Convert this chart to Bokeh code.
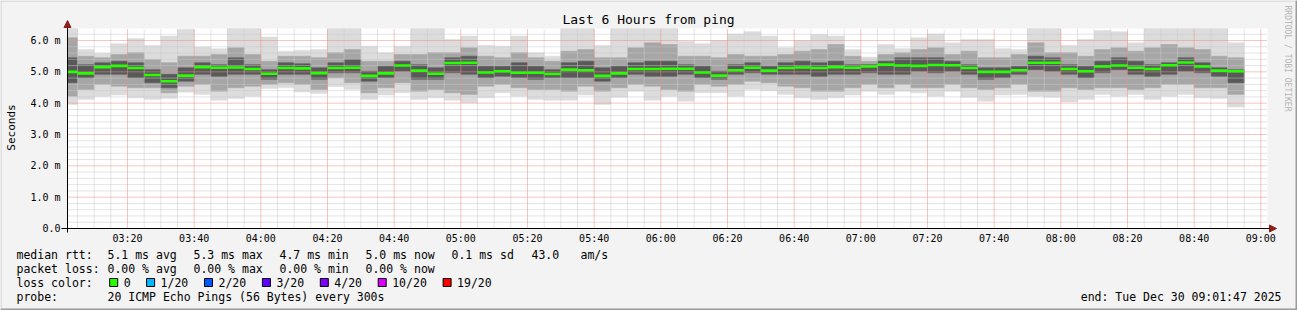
import numpy as np
import pandas as pd
from math import pi
from bokeh.plotting import figure
from bokeh.models import ColumnDataSource, FixedTicker, Range1d, Arrow, NormalHead
from bokeh.embed import file_html
from bokeh.resources import INLINE
from bokeh.core.properties import value

MONO = "DejaVu Sans Mono"

# ---------------- data ----------------
# one bar per 5-minute RRD step, timestamp = end of the step
bar_end = pd.date_range("2025-12-30 03:05", "2025-12-30 08:55", freq="5min")

median_ms = [5.00, 4.95, 5.15, 5.19, 5.12, 4.90, 4.70, 4.88, 5.15, 5.13,
             5.14, 5.09, 4.94, 5.12, 5.11, 4.96, 5.12, 5.13, 4.87, 4.95,
             5.20, 5.04, 4.94, 5.28, 5.29, 4.98, 5.02, 4.97, 4.97, 4.93,
             5.07, 5.05, 4.87, 4.95, 5.09, 5.09, 5.10, 5.10, 4.98, 4.88,
             5.05, 5.13, 5.04, 5.12, 5.14, 5.12, 5.15, 5.13, 5.17, 5.23,
             5.20, 5.19, 5.22, 5.21, 5.12, 5.00, 5.00, 5.05, 5.29, 5.29,
             5.09, 5.02, 5.17, 5.20, 5.13, 5.09, 5.21, 5.30, 5.17, 5.04,
             5.02]

smoke_max_ms = [6.38, 5.71, 5.59, 5.90, 6.06, 5.84, 6.14, 6.36, 5.79, 5.74,
                6.38, 6.38, 6.11, 5.66, 5.69, 5.71, 6.38, 6.38, 5.82, 5.61,
                5.82, 6.38, 6.38, 6.03, 6.14, 5.85, 5.82, 6.14, 5.61, 5.50,
                6.38, 6.38, 5.84, 6.38, 6.38, 6.38, 6.38, 5.98, 5.90, 6.00,
                6.21, 6.28, 6.14, 5.77, 6.00, 6.19, 6.14, 5.71, 5.47, 5.87,
                5.74, 6.09, 6.21, 5.93, 6.03, 6.03, 5.74, 5.71, 6.38, 6.38,
                5.85, 6.03, 6.32, 6.28, 5.93, 6.38, 6.38, 6.38, 6.38, 6.38,
                5.93]

smoke_min_ms = [3.96, 4.12, 4.22, 4.26, 4.17, 4.12, 4.15, 4.35, 4.28, 4.09,
                4.15, 4.22, 4.47, 4.49, 4.36, 4.31, 4.53, 4.44, 4.12, 4.26,
                4.33, 4.12, 4.17, 4.09, 4.01, 4.17, 4.33, 4.22, 4.12, 4.09,
                4.09, 4.26, 3.96, 4.19, 4.38, 4.09, 4.22, 4.06, 4.33, 4.33,
                4.22, 4.44, 4.40, 4.28, 4.17, 4.12, 4.17, 4.26, 4.38, 4.28,
                4.38, 4.33, 4.22, 4.38, 4.19, 4.06, 4.26, 4.28, 4.22, 4.19,
                4.04, 4.12, 4.28, 4.22, 4.28, 4.12, 4.22, 4.28, 4.17, 4.15,
                3.88]

mid_hi_ms = [6.09, 5.50, 5.45, 5.55, 5.61, 5.39, 5.29, 5.50, 5.50, 5.55,
             5.77, 5.55, 5.34, 5.50, 5.50, 5.45, 5.61, 5.71, 5.34, 5.34,
             5.55, 5.55, 5.61, 5.61, 5.77, 5.50, 5.45, 5.61, 5.45, 5.34,
             5.66, 5.71, 5.45, 5.45, 5.77, 5.93, 5.87, 5.50, 5.50, 5.45,
             5.55, 5.50, 5.50, 5.55, 5.66, 5.71, 5.87, 5.50, 5.34, 5.55,
             5.61, 5.71, 5.77, 5.55, 5.66, 5.45, 5.45, 5.55, 5.93, 5.61,
             5.61, 5.50, 5.71, 5.77, 5.66, 5.77, 5.87, 5.77, 5.71, 5.50,
             5.45]

mid_lo_ms = [4.22, 4.44, 4.60, 4.54, 4.49, 4.49, 4.33, 4.54, 4.60, 4.38,
             4.49, 4.54, 4.60, 4.65, 4.60, 4.44, 4.81, 4.65, 4.33, 4.49,
             4.65, 4.38, 4.44, 4.33, 4.28, 4.54, 4.60, 4.49, 4.44, 4.44,
             4.38, 4.54, 4.38, 4.49, 4.60, 4.54, 4.44, 4.38, 4.60, 4.54,
             4.60, 4.70, 4.65, 4.54, 4.49, 4.38, 4.38, 4.49, 4.60, 4.49,
             4.60, 4.49, 4.49, 4.60, 4.49, 4.44, 4.49, 4.60, 4.38, 4.38,
             4.49, 4.44, 4.49, 4.49, 4.44, 4.49, 4.60, 4.60, 4.49, 4.49,
             4.28]

core_hi_ms = [5.45, 5.23, 5.29, 5.34, 5.29, 5.07, 4.92, 5.13, 5.29, 5.23,
              5.45, 5.23, 5.07, 5.29, 5.26, 5.13, 5.29, 5.39, 5.02, 5.18,
              5.34, 5.23, 5.13, 5.45, 5.50, 5.18, 5.18, 5.29, 5.18, 5.07,
              5.29, 5.34, 5.13, 5.18, 5.29, 5.34, 5.34, 5.23, 5.18, 5.02,
              5.23, 5.29, 5.18, 5.29, 5.34, 5.29, 5.34, 5.23, 5.23, 5.34,
              5.45, 5.45, 5.45, 5.34, 5.23, 5.13, 5.13, 5.18, 5.50, 5.45,
              5.23, 5.18, 5.34, 5.45, 5.34, 5.23, 5.29, 5.45, 5.29, 5.13,
              5.07]

core_lo_ms = [4.65, 4.81, 4.92, 4.92, 4.81, 4.65, 4.49, 4.70, 4.92, 4.86,
              4.92, 4.92, 4.76, 4.92, 4.92, 4.76, 4.97, 4.97, 4.70, 4.81,
              5.02, 4.76, 4.76, 4.97, 4.92, 4.81, 4.86, 4.81, 4.76, 4.81,
              4.81, 4.81, 4.70, 4.81, 4.92, 4.86, 4.86, 4.92, 4.81, 4.76,
              4.92, 4.97, 4.92, 4.92, 4.92, 4.86, 4.92, 4.92, 4.97, 4.92,
              4.92, 5.02, 4.97, 5.02, 4.92, 4.76, 4.81, 4.92, 5.07, 5.02,
              4.92, 4.81, 4.97, 5.07, 4.92, 4.86, 4.92, 5.02, 4.97, 4.86,
              4.65]

x_tick_labels = ["03:20", "03:40", "04:00", "04:20", "04:40", "05:00", "05:20", "05:40", "06:00",
                 "06:20", "06:40", "07:00", "07:20", "07:40", "08:00", "08:20", "08:40", "09:00"]
y_tick_values = [0, 1, 2, 3, 4, 5, 6]
y_tick_labels = ["0.0", "1.0 m", "2.0 m", "3.0 m", "4.0 m", "5.0 m", "6.0 m"]

title_text = "Last 6 Hours from ping"
y_label = "Seconds"
watermark = "RRDTOOL / TOBI OETIKER"
rtt_stats = ["5.1 ms avg", "5.3 ms max", "4.7 ms min", "5.0 ms now", "0.1 ms sd", "43.0", "am/s"]
loss_stats = ["0.00 % avg", "0.00 % max", "0.00 % min", "0.00 % now"]
loss_labels = ["0", "1/20", "2/20", "3/20", "4/20", "10/20", "19/20"]
loss_colors = ["#26ff00", "#00b8ff", "#0059ff", "#5e00ff", "#7e00ff", "#dd00ff", "#ff0000"]
probe_text = "20 ICMP Echo Pings (56 Bytes) every 300s"
end_text = "end: Tue Dec 30 09:01:47 2025"

# ---------------- geometry (canvas pixels) ----------------
W, H = 1297, 310
FL, FR, FT, FB = 67, 1267, 28, 228          # graph area inside the canvas
X0, X1 = 182.0, 542.0                       # minutes since midnight (03:02 .. 09:02)
Y0, Y1 = 0.0, 6.0 * (FB - FT) / 188.0       # ms

def px2x(px):
    return X0 + (px - FL) * (X1 - X0) / (FR - FL)

def px2y(py):
    return Y0 + (FB - py) * (Y1 - Y0) / (FB - FT)

BG = "#f3f3f3"

# the frame covers the whole canvas; the graph area is mapped to FL..FR / FT..FB
p = figure(width=W, height=H, x_range=Range1d(px2x(0), px2x(W)), y_range=Range1d(px2y(H), px2y(0)),
           output_backend="svg", toolbar_location=None, min_border=0,
           min_border_left=0, min_border_right=0, min_border_top=0, min_border_bottom=0,
           background_fill_color=BG, border_fill_color=BG, outline_line_color=None)
p.title.text = ""
p.xgrid.visible = False
p.ygrid.visible = False

# graph background
p.quad(left=[X0], right=[X1], bottom=[Y0], top=[Y1], fill_color="white", line_color=None)

t_end = (bar_end.hour * 60 + bar_end.minute).to_numpy().astype(float)
left = np.maximum(t_end - 5.0, X0)      # rrdtool clips the first step at the graph start
med_half = 1.3 * (Y1 - Y0) / (FB - FT)
src = ColumnDataSource(dict(
    left=left, right=t_end,
    smin=smoke_min_ms, smax=smoke_max_ms,
    mlo=mid_lo_ms, mhi=mid_hi_ms,
    clo=core_lo_ms, chi=core_hi_ms,
    med_lo=[m - med_half for m in median_ms],
    med_hi=[m + med_half for m in median_ms],
))

p.quad(left="left", right="right", bottom="smin", top="smax", source=src,
       fill_color="#dcdcdc", line_color="#dcdcdc", line_width=0.5)
p.quad(left="left", right="right", bottom="mlo", top="mhi", source=src,
       fill_color="#a6a6a6", line_color="#a6a6a6", line_width=0.5)
p.quad(left="left", right="right", bottom="clo", top="chi", source=src,
       fill_color="#595959", line_color="#595959", line_width=0.5)

# grid (dotted, drawn over the smoke like rrdtool)
major_x = [200 + 20 * i for i in range(len(x_tick_labels))]
minor_x = [m for m in range(185, 542, 5) if m % 20 != 0]
minor_y = [round(i * 0.2, 1) for i in range(1, 32) if i % 5 != 0]
p.segment(x0=minor_x, y0=Y0, x1=minor_x, y1=Y1, line_color="#c8c8c8", line_dash="1 1", line_width=1)
p.segment(x0=X0, y0=minor_y, x1=X1, y1=minor_y, line_color="#c8c8c8", line_dash="1 1", line_width=1)
p.segment(x0=major_x, y0=Y0, x1=major_x, y1=Y1, line_color="#f08a8a", line_dash="1 1", line_width=1)
p.segment(x0=X0, y0=y_tick_values[1:], x1=X1, y1=y_tick_values[1:], line_color="#f08a8a",
          line_dash="1 1", line_width=1)

# median
p.quad(left="left", right="right", bottom="med_lo", top="med_hi", source=src,
       fill_color=loss_colors[0], line_color=None)

# axes: labels from Bokeh axes, fixed at the graph edges
p.xaxis.fixed_location = Y0
p.yaxis.fixed_location = X0
p.xaxis.ticker = FixedTicker(ticks=major_x, minor_ticks=[])
p.xaxis.major_label_overrides = {m: lab for m, lab in zip(major_x, x_tick_labels)}
p.yaxis.ticker = FixedTicker(ticks=y_tick_values, minor_ticks=[])
p.yaxis.major_label_overrides = {v: lab for v, lab in zip(y_tick_values, y_tick_labels)}
p.xaxis.bounds = (X0, X1)
p.yaxis.bounds = (Y0, Y1)
for ax in (p.xaxis, p.yaxis):
    ax.axis_line_color = None
    ax.major_tick_out = 0
    ax.major_tick_in = 0
    ax.minor_tick_out = 0
    ax.minor_tick_in = 0
    ax.major_label_text_font = MONO
    ax.major_label_text_font_size = "10px"
    ax.major_label_text_color = "black"
p.xaxis.major_label_standoff = 4
p.yaxis.major_label_standoff = 7

# axis lines with arrow heads
ARROW_RED = "#8f1f1f"
p.add_layout(Arrow(x_start=px2x(61), y_start=Y0, x_end=px2x(1276), y_end=Y0,
                   line_color="black", line_width=1,
                   end=NormalHead(size=7, fill_color=ARROW_RED, line_color=ARROW_RED)))
p.add_layout(Arrow(x_start=X0, y_start=px2y(232), x_end=X0, y_end=px2y(20),
                   line_color="black", line_width=1,
                   end=NormalHead(size=7, fill_color=ARROW_RED, line_color=ARROW_RED)))

# title, unit label, watermark
p.text(x=[px2x(648)], y=[px2y(19)], text=[title_text], text_align="center", text_baseline="middle",
       text_font=value(MONO), text_font_size="13px", text_color="black")
p.text(x=[px2x(11)], y=[px2y(127)], text=[y_label], angle=pi / 2, text_align="center",
       text_baseline="middle", text_font=value(MONO), text_font_size="11px", text_color="black")
p.text(x=[px2x(1287)], y=[px2y(5)], text=[watermark], angle=-pi / 2, text_align="left",
       text_baseline="middle", text_font=value(MONO), text_font_size="8px", text_color="#b4b4b4")

# ---------------- legend ----------------
rows_y = [254, 268, 282, 296]
stat_x = [107, 193, 279, 365, 451, 531, 580]
sw_left = [108.7, 145.6, 203.5, 261.4, 319.3, 377.2, 442.1]   # swatch left edges
txt_x, txt_y, txt = [], [], []

def put(x, y, s):
    txt_x.append(px2x(x)); txt_y.append(px2y(y)); txt.append(s)

put(16, rows_y[0], "median rtt:")
for x, s in zip(stat_x, rtt_stats):
    put(x, rows_y[0], s)
put(16, rows_y[1], "packet loss:")
for x, s in zip(stat_x, loss_stats):
    put(x, rows_y[1], s)
put(16, rows_y[2], "loss color:")
for x, s in zip(sw_left, loss_labels):
    put(x + 14.5, rows_y[2], s)
put(16, rows_y[3], "probe:")
put(107, rows_y[3], probe_text)

p.text(x=txt_x, y=txt_y, text=txt, text_font=value(MONO), text_font_size="11.5px",
       text_baseline="middle", text_align="left", text_color="black")
p.text(x=[px2x(1281)], y=[px2y(rows_y[3])], text=[end_text], text_font=value(MONO),
       text_font_size="11.5px", text_baseline="middle", text_align="right", text_color="black")
p.rect(x=[px2x(v + 4.5) for v in sw_left], y=[px2y(rows_y[2])] * len(sw_left), width=8, height=8,
       width_units="screen", height_units="screen",
       fill_color=loss_colors, line_color="black", line_width=1)

# 3-D frame of the rrdtool image
p.segment(x0=[px2x(0), px2x(0.5)], y0=[px2y(0.5), px2y(0)], x1=[px2x(W), px2x(0.5)], y1=[px2y(0.5), px2y(H)],
          line_color="#cbcbcb", line_width=1)
p.segment(x0=[px2x(0), px2x(W - 1)], y0=[px2y(H - 1), px2y(0)], x1=[px2x(W), px2x(W - 1)], y1=[px2y(H - 1), px2y(H)],
          line_color="#9b9b9b", line_width=2)

open("out.html", "w").write(file_html(p, INLINE))
